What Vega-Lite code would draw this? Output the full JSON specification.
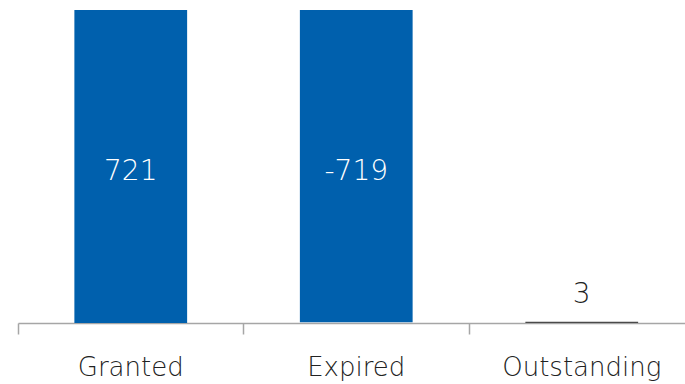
{
  "$schema": "https://vega.github.io/schema/vega-lite/v6.json",
  "autosize": "none",
  "width": 667,
  "height": 313,
  "padding": {"left": 18, "top": 10, "right": 0, "bottom": 61},
  "background": "white",
  "config": {"view": {"stroke": null}},
  "data": {"values": [
    {"category": "Granted", "start": 0, "end": 721, "label": "721", "kind": "up", "mid": 348},
    {"category": "Expired", "start": 721, "end": 2, "label": "-719", "kind": "down", "mid": 348},
    {"category": "Outstanding", "start": 0, "end": 3, "label": "3", "kind": "total", "mid": 3}
  ]},
  "encoding": {
    "x": {
      "field": "category", "type": "nominal", "sort": null,
      "scale": {"range": [0, 676.5], "paddingInner": 0, "paddingOuter": 0},
      "axis": {
        "title": null, "labelAngle": 0, "bandPosition": 0,
        "domainColor": "#a6a6a6", "domainWidth": 1.5, "tickColor": "#a6a6a6", "tickWidth": 1.5, "tickSize": 11,
        "labelFont": "DejaVu Sans", "labelFontWeight": 200, "labelFontSize": 26, "labelColor": "#222222",
        "labelPadding": 20
      }
    }
  },
  "layer": [
    {
      "mark": {"type": "bar", "width": {"band": 0.5}},
      "encoding": {
        "y": {"field": "start", "type": "quantitative", "scale": {"domain": [0, 721], "nice": false, "zero": true}, "axis": null},
        "y2": {"field": "end"},
        "color": {"field": "kind", "type": "nominal", "scale": {"domain": ["up", "down", "total"], "range": ["#0060ad", "#0060ad", "#4a4a4a"]}, "legend": null}
      }
    },
    {
      "transform": [{"filter": "datum.kind != 'total'"}],
      "mark": {"type": "text", "font": "DejaVu Sans", "fontWeight": 200, "fontSize": 28, "color": "white", "baseline": "middle"},
      "encoding": {
        "y": {"field": "mid", "type": "quantitative"},
        "text": {"field": "label"}
      }
    },
    {
      "transform": [{"filter": "datum.kind == 'total'"}],
      "mark": {"type": "text", "font": "DejaVu Sans", "fontWeight": 200, "fontSize": 28, "color": "#222222", "baseline": "middle", "dy": -27},
      "encoding": {
        "y": {"field": "mid", "type": "quantitative"},
        "text": {"field": "label"}
      }
    }
  ]
}
